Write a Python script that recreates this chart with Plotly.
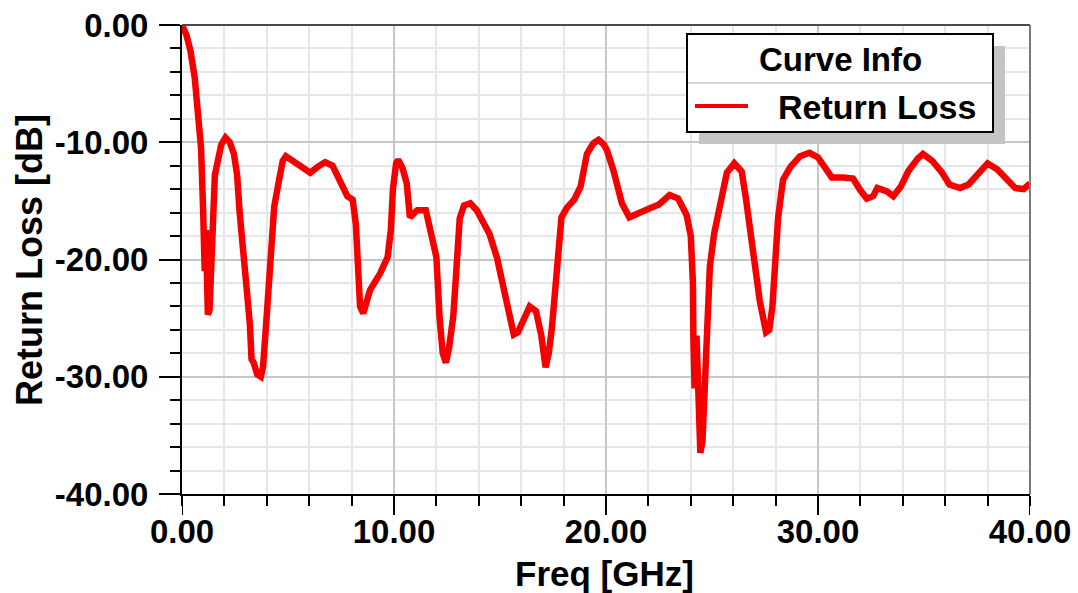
import plotly.graph_objects as go

# ---- data ----
freq_ghz = [
    0.0, 0.2, 0.4, 0.6, 0.75, 0.9, 1.0, 1.07, 1.13, 1.22, 1.3, 1.4, 1.47, 1.55, 1.7, 1.85,
    2.05, 2.25, 2.45, 2.6, 2.72, 2.9, 3.05, 3.2, 3.28, 3.38, 3.55, 3.72, 3.82, 3.95, 4.08,
    4.22, 4.35, 4.55, 4.75, 4.9, 5.4, 5.8, 6.05, 6.4, 6.75, 7.1, 7.45, 7.8, 8.05, 8.2, 8.3,
    8.4, 8.55, 8.87, 9.34, 9.7, 9.85, 9.95, 10.1, 10.2, 10.4, 10.6, 10.75, 11.1, 11.5, 11.7,
    12.0, 12.15, 12.3, 12.45, 12.6, 12.8, 12.95, 13.1, 13.3, 13.6, 13.9, 14.2, 14.5, 14.85,
    15.3, 15.65, 15.85, 16.1, 16.4, 16.7, 16.95, 17.15, 17.3, 17.45, 17.7, 17.9, 18.15, 18.5,
    18.8, 19.1, 19.4, 19.65, 19.9, 20.05, 20.35, 20.75, 21.1, 21.4, 21.8, 22.1, 22.5, 23.0,
    23.4, 23.8, 24.0, 24.1, 24.12, 24.18, 24.27, 24.36, 24.45, 24.55, 24.68, 24.8, 24.9,
    25.1, 25.4, 25.7, 26.05, 26.4, 26.6, 26.9, 27.25, 27.55, 27.7, 27.85, 28.0, 28.12, 28.35,
    28.7, 29.15, 29.6, 30.0, 30.4, 30.65, 31.2, 31.65, 32.0, 32.3, 32.6, 32.8, 33.25, 33.55,
    33.9, 34.25, 34.7, 34.95, 35.4, 35.85, 36.2, 36.7, 37.1, 37.5, 38.0, 38.45, 38.9, 39.3,
    39.7, 40.0,
]
return_loss_db = [
    0.0, -0.8, -2.2, -4.5, -7.5, -10.5, -16.0, -21.0, -17.5, -24.7, -24.3, -20.0, -15.5, -12.8, -11.5, -10.2,
    -9.6, -10.0, -11.0, -12.8, -16.0, -19.0, -22.5, -25.5, -28.5, -28.8, -29.8, -30.0, -29.2, -26.0, -22.5,
    -18.0, -15.5, -13.5, -11.6, -11.2, -11.8, -12.3, -12.6, -12.1, -11.7, -12.0, -13.4, -14.6, -14.9, -17.0, -20.5,
    -24.0, -24.6, -22.6, -21.2, -19.8, -17.5, -14.0, -11.8, -11.5, -12.2, -13.5, -16.4, -15.8, -15.8, -17.2,
    -19.8, -25.0, -28.0, -28.8, -27.5, -24.8, -20.5, -16.5, -15.4, -15.2, -15.8, -16.9, -17.8, -19.8,
    -23.5, -26.4, -26.2, -25.3, -24.0, -24.4, -26.5, -29.2, -28.0, -25.8, -21.2, -16.4, -15.6, -14.9,
    -13.8, -11.0, -10.1, -9.8, -10.2, -10.7, -12.4, -15.2, -16.4, -16.2, -15.8, -15.6, -15.3, -14.5,
    -14.8, -16.2, -18.0, -22.0, -26.5, -31.0, -26.5, -33.0, -36.5, -35.5, -29.0, -24.9, -20.6,
    -17.8, -15.2, -12.6, -11.8, -12.5, -14.8, -19.2, -23.5, -26.2, -26.0, -24.0, -20.0, -16.4, -13.2,
    -12.1, -11.2, -10.9, -11.3, -12.5, -13.0, -13.0, -13.1, -14.1, -14.8, -14.6, -13.9, -14.2, -14.6,
    -13.8, -12.5, -11.4, -11.0, -11.6, -12.6, -13.6, -13.9, -13.6, -12.8, -11.8, -12.3, -13.2, -13.9,
    -14.0, -13.5,
]
x_tick_vals = [0, 10, 20, 30, 40]
x_tick_text = ["0.00", "10.00", "20.00", "30.00", "40.00"]
y_tick_vals = [0, -10, -20, -30, -40]
y_tick_text = ["0.00", "-10.00", "-20.00", "-30.00", "-40.00"]
series_name = "Return Loss"
legend_title = "Curve Info"
x_title = "Freq [GHz]"
y_title = "Return Loss [dB]"

# ---- layout geometry (pixels) ----
W, H = 1078, 593
L, R, T, B = 182, 1030, 25, 494
FONT = "Liberation Sans, Arial, sans-serif"
RED = "rgb(245,0,0)"
MAJOR_TICK = 21


def pxx(x):
    return (x - L) / (R - L)


def pxy(y):
    return (B - y) / (B - T)


fig = go.Figure()
fig.add_trace(go.Scatter(
    x=freq_ghz, y=return_loss_db, mode="lines", name=series_name,
    line=dict(color=RED, width=6.5), showlegend=False,
))

tickfont = dict(family=FONT, size=33, color="black", weight="bold")
minor_common = dict(ticks="outside", ticklen=10, tickwidth=2, tickcolor="black",
                    showgrid=True, gridcolor="#e6e6e6", gridwidth=2)

fig.update_layout(
    width=W, height=H,
    margin=dict(l=L, r=W - R, t=T, b=H - B, autoexpand=False),
    paper_bgcolor="white", plot_bgcolor="white",
    xaxis=dict(
        range=[0, 40], tickmode="array", tickvals=x_tick_vals, ticktext=x_tick_text,
        showline=True, linecolor="black", linewidth=2,
        ticks="", showgrid=True, gridcolor="#c6c6c6", gridwidth=2, zeroline=False,
        minor=dict(dtick=2, tick0=0, **minor_common),
        ticklabelstandoff=7,
        tickfont=tickfont,
    ),
    yaxis=dict(
        range=[-40, 0], tickmode="array", tickvals=y_tick_vals, ticktext=y_tick_text,
        showline=True, linecolor="black", linewidth=2,
        ticks="outside", ticklen=MAJOR_TICK, tickwidth=2, tickcolor="black",
        showgrid=True, gridcolor="#c6c6c6", gridwidth=2, zeroline=False,
        minor=dict(dtick=2, tick0=0, **minor_common),
        ticklabelstandoff=4,
        tickfont=tickfont,
    ),
)

shapes = [
    # top and right frame
    dict(type="line", xref="paper", yref="paper", x0=0, x1=1, y0=1, y1=1,
         line=dict(color="#4a4a4a", width=2)),
    dict(type="line", xref="paper", yref="paper", x0=1, x1=1, y0=0, y1=1,
         line=dict(color="#7a7a7a", width=2)),
    # legend shadow
    dict(type="rect", xref="paper", yref="paper", x0=pxx(699), x1=pxx(1005),
         y0=pxy(144), y1=pxy(46), fillcolor="#c4c4c4", line=dict(width=0)),
    # legend box
    dict(type="rect", xref="paper", yref="paper", x0=pxx(687), x1=pxx(993),
         y0=pxy(132), y1=pxy(34), fillcolor="white", line=dict(color="black", width=2)),
    # separator
    dict(type="line", xref="paper", yref="paper", x0=pxx(688), x1=pxx(992),
         y0=pxy(83), y1=pxy(83), line=dict(color="#c8c8c8", width=1.5)),
    # legend sample line
    dict(type="line", xref="paper", yref="paper", x0=pxx(695), x1=pxx(748),
         y0=pxy(106), y1=pxy(106), line=dict(color=RED, width=4)),
]
# long major ticks on the x axis, placed on the axis' own scale
for v in x_tick_vals:
    shapes.append(dict(type="line", xref="x", yref="paper", x0=v, x1=v,
                       y0=0, y1=-MAJOR_TICK / (B - T),
                       line=dict(color="black", width=2)))
fig.update_layout(shapes=shapes)

fig.add_annotation(
    text=legend_title, xref="paper", yref="paper", x=pxx(840), y=pxy(59),
    xanchor="center", yanchor="middle", showarrow=False,
    font=dict(family=FONT, size=33, color="black", weight="bold"),
)
fig.add_annotation(
    text=series_name, xref="paper", yref="paper", x=pxx(776), y=pxy(107),
    xanchor="left", yanchor="middle", showarrow=False,
    font=dict(family=FONT, size=34, color="black", weight="bold"),
)
fig.add_annotation(
    text=x_title, xref="paper", yref="paper", x=pxx(604), y=pxy(573),
    xanchor="center", yanchor="middle", showarrow=False,
    font=dict(family=FONT, size=35, color="black", weight="bold"),
)
fig.add_annotation(
    text=y_title, xref="paper", yref="paper", x=pxx(29), y=pxy(260),
    xanchor="center", yanchor="middle", showarrow=False, textangle=-90,
    font=dict(family=FONT, size=36, color="black", weight="bold"),
)

fig.write_html(
    "out.html",
    config={"displayModeBar": False},
    post_script="document.body.style.margin='0px';document.body.style.overflow='hidden';",
)
